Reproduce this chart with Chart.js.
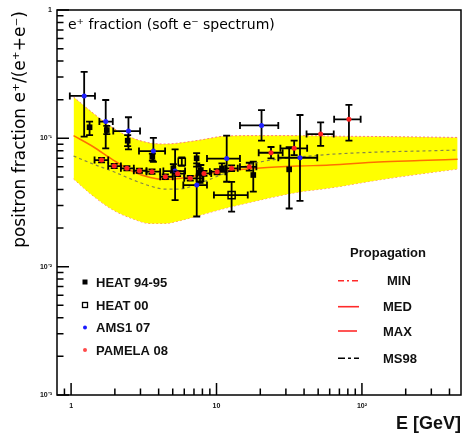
<!DOCTYPE html>
<html><head><meta charset="utf-8">
<script src="https://cdn.jsdelivr.net/npm/chart.js@4.4.1/dist/chart.umd.min.js"></script>
<style>html,body{margin:0;padding:0;background:#fff}#wrap{width:462px;height:434px;position:relative}</style>
</head><body><div id="wrap"><canvas id="c" width="462" height="434"></canvas></div>
<script>
// ---- Axis ticks ----
const xMin = 0.8, xMax = 480;
const xMajor = [1, 10, 100];
const xMajorLabels = ['1', '10', '10²'];
const xMinor = [0.9, 2, 3, 4, 5, 6, 7, 8, 9, 20, 30, 40, 50, 60, 70, 80, 90, 200, 300, 400];
const yMajor = [0.001, 0.01, 0.1, 1];
const yMajorLabels = ['10⁻³', '10⁻²', '10⁻¹', '1'];
const yMinor = [0.002, 0.003, 0.004, 0.005, 0.006, 0.007, 0.008, 0.009,
                0.02, 0.03, 0.04, 0.05, 0.06, 0.07, 0.08, 0.09,
                0.2, 0.3, 0.4, 0.5, 0.6, 0.7, 0.8, 0.9];

// ---- Model curves (energy grid in GeV) ----
const curveE    = [1.04, 1.42, 1.95, 2.68, 3.5, 4.4, 5.5, 7.7, 11.6, 20, 37, 60, 130, 250, 455];
const bandUpper = [0.210, 0.157, 0.120, 0.100, 0.0919, 0.0903, 0.0919, 0.0970, 0.1042, 0.105, 0.105, 0.104, 0.1033, 0.1024, 0.1016];
const bandLower = [0.0482, 0.0355, 0.0276, 0.0235, 0.0217, 0.0217, 0.0227, 0.0252, 0.0286, 0.0331, 0.0382, 0.0410, 0.0474, 0.0527, 0.0577];
const medCurve  = [0.105, 0.0860, 0.0677, 0.0549, 0.0495, 0.0477, 0.0486, 0.0518, 0.0556, 0.0587, 0.0608, 0.0619, 0.0654, 0.0671, 0.0686];
const ms98Curve = [0.0728, 0.0630, 0.0551, 0.0473, 0.0425, 0.0402, 0.0402, 0.0448, 0.0537, 0.0654, 0.0715, 0.0750, 0.0782, 0.0796, 0.0811];

// ---- HEAT 94-95 ----
const heat95E  = [1.34, 1.76, 2.45, 3.62, 5.05, 7.3, 7.8, 10.9, 17.9, 31.6];
const heat95V  = [0.122, 0.116, 0.0958, 0.0719, 0.0584, 0.0699, 0.0566, 0.0584, 0.0518, 0.0573];
const heat95Lo = [0.106, 0.108, 0.087, 0.067, 0.054, 0.0602, 0.052, 0.055, 0.0385, 0.0284];
const heat95Hi = [0.135, 0.125, 0.106, 0.076, 0.063, 0.0768, 0.062, 0.0638, 0.0659, 0.0852];

// ---- HEAT 00 ----
const heat00E   = [5.77, 7.7, 12.7];
const heat00V   = [0.0657, 0.0493, 0.0361];
const heat00Lo  = [0.061, 0.045, 0.0268];
const heat00Hi  = [0.071, 0.054, 0.0458];
const heat00XLo = [null, null, 9.6];
const heat00XHi = [null, null, 16.4];

// ---- AMS-01 07 ----
const amsE   = [1.23, 1.73, 2.48, 3.68, 5.19, 7.31, 11.75, 20.4, 37.5];
const amsV   = [0.214, 0.135, 0.114, 0.0796, 0.0556, 0.0432, 0.0696, 0.126, 0.0706];
const amsLo  = [0.103, 0.0836, 0.082, 0.0657, 0.033, 0.0246, 0.0459, 0.0958, 0.0325];
const amsHi  = [0.330, 0.199, 0.146, 0.101, 0.082, 0.0638, 0.105, 0.166, 0.152];
const amsXLo = [0.98, 1.565, 1.95, 2.93, 4.31, 5.91, 8.6, 14.5, 26.6];
const amsXHi = [1.46, 1.935, 2.98, 4.43, 6.08, 8.6, 14.5, 26.6, 49.3];

// ---- PAMELA 08 ----
const pamE   = [1.62, 1.98, 2.42, 2.95, 3.6, 4.45, 5.4, 6.6, 8.2, 10.1, 12.7, 16.8, 23.7, 34.2, 52.0, 81.4];
const pamV   = [0.0677, 0.0608, 0.0584, 0.0559, 0.0550, 0.0502, 0.0530, 0.0488, 0.0533, 0.0550, 0.0584, 0.0600, 0.0772, 0.0836, 0.108, 0.1406];
const pamLo  = [0.0650, 0.0585, 0.0562, 0.0538, 0.0528, 0.0482, 0.0508, 0.0468, 0.0510, 0.0525, 0.0555, 0.0560, 0.0698, 0.0740, 0.0873, 0.0958];
const pamHi  = [0.0705, 0.0632, 0.0607, 0.0581, 0.0573, 0.0523, 0.0553, 0.0509, 0.0557, 0.0576, 0.0615, 0.0645, 0.0856, 0.0960, 0.133, 0.182];
const pamXLo = [1.45, 1.80, 2.20, 2.70, 3.30, 4.10, 5.00, 6.00, 7.40, 9.00, 11.5, 14.5, 19.5, 27.5, 41.6, 64.4];
const pamXHi = [1.80, 2.20, 2.70, 3.30, 4.10, 5.00, 6.00, 8.00, 9.20, 11.5, 14.0, 18.8, 28.5, 42.0, 64.0, 98.0];

// ---- Texts ----
const yTitle = 'positron fraction e⁺/(e⁺+e⁻)';
const xTitle = 'E [GeV]';
const plotLabel = 'e⁺ fraction (soft e⁻ spectrum)';
const dataLegendLabels = ['HEAT 94-95', 'HEAT 00', 'AMS1 07', 'PAMELA 08'];
const propTitle = 'Propagation';
const propLegendLabels = ['MIN', 'MED', 'MAX', 'MS98'];

const FONT = "'Liberation Sans', Arial, sans-serif";
Chart.defaults.font.family = FONT;

const pts = (E, V) => E.map((e, i) => ({x: e, y: V[i]}));

// pin the plot frame's right edge to the reference position
const areaPlugin = {
  id: 'area',
  afterLayout(chart) {
    const R = 461, a = chart.chartArea, x = chart.scales.x;
    a.right = R; a.width = R - a.left;
    x.right = R; x.width = R - x.left;
    x.configure();
  }
};

const errPlugin = {
  id: 'errbars',
  beforeDatasetDraw(chart, args) {
    const ds = chart.data.datasets[args.index];
    if (!ds.err) return;
    const {ctx, chartArea: a, scales: {x, y}} = chart;
    const e = ds.err, cap = 3.5;
    ctx.save();
    ctx.beginPath(); ctx.rect(a.left, a.top, a.right - a.left, a.bottom - a.top); ctx.clip();
    ctx.strokeStyle = '#000'; ctx.lineWidth = 1.8; ctx.lineCap = 'butt';
    ds.data.forEach((p, i) => {
      const px = x.getPixelForValue(p.x), py = y.getPixelForValue(p.y);
      ctx.beginPath();
      if (e.ylo && e.ylo[i] != null) {
        const y1 = y.getPixelForValue(e.ylo[i]), y2 = y.getPixelForValue(e.yhi[i]);
        ctx.moveTo(px, y1); ctx.lineTo(px, y2);
        ctx.moveTo(px - cap, y1); ctx.lineTo(px + cap, y1);
        ctx.moveTo(px - cap, y2); ctx.lineTo(px + cap, y2);
      }
      if (e.xlo && e.xlo[i] != null) {
        const x1 = x.getPixelForValue(e.xlo[i]), x2 = x.getPixelForValue(e.xhi[i]);
        ctx.moveTo(x1, py); ctx.lineTo(x2, py);
        ctx.moveTo(x1, py - cap); ctx.lineTo(x1, py + cap);
        ctx.moveTo(x2, py - cap); ctx.lineTo(x2, py + cap);
      }
      ctx.stroke();
    });
    ctx.restore();
  }
};

const framePlugin = {
  id: 'frame',
  afterDatasetsDraw(chart) {
    const {ctx, chartArea: a, scales: {x, y}} = chart;
    ctx.save();
    ctx.strokeStyle = '#000'; ctx.lineWidth = 1.5;
    ctx.strokeRect(a.left, a.top, a.right - a.left, a.bottom - a.top);
    ctx.beginPath();
    xMajor.forEach(v => { const px = x.getPixelForValue(v); ctx.moveTo(px, a.bottom); ctx.lineTo(px, a.bottom - 12); });
    xMinor.forEach(v => { const px = x.getPixelForValue(v); ctx.moveTo(px, a.bottom); ctx.lineTo(px, a.bottom - 6.5); });
    yMajor.forEach(v => { const py = y.getPixelForValue(v); ctx.moveTo(a.left, py); ctx.lineTo(a.left + 12, py); });
    yMinor.forEach(v => { const py = y.getPixelForValue(v); ctx.moveTo(a.left, py); ctx.lineTo(a.left + 6.5, py); });
    ctx.stroke();
    ctx.restore();
  },
  afterDraw(chart) {
    const ctx = chart.ctx;
    ctx.save();
    ctx.fillStyle = '#000';
    // y title
    ctx.save();
    ctx.translate(21, 11);
    ctx.rotate(-Math.PI / 2);
    ctx.font = "17px 'DejaVu Sans', sans-serif";
    ctx.textAlign = 'right'; ctx.textBaseline = 'middle';
    ctx.fillText(yTitle, 0, 0);
    ctx.restore();
    // plot label
    ctx.font = "14px 'DejaVu Sans', sans-serif";
    ctx.textAlign = 'left'; ctx.textBaseline = 'alphabetic';
    ctx.fillText(plotLabel, 68, 29);
    // data legend
    const rows = [282, 305, 327.5, 350];
    ctx.font = "bold 13px " + FONT;
    ctx.textBaseline = 'middle';
    rows.forEach((ry, i) => {
      const mx = 85;
      if (i === 0) { ctx.fillStyle = '#000'; ctx.fillRect(mx - 2.5, ry - 2.5, 5, 5); }
      if (i === 1) { ctx.strokeStyle = '#000'; ctx.lineWidth = 1.3; ctx.strokeRect(mx - 2.5, ry - 2.5, 5, 5); }
      if (i === 2) { ctx.fillStyle = '#1a1aff'; ctx.beginPath(); ctx.arc(mx, ry, 2, 0, 2 * Math.PI); ctx.fill(); }
      if (i === 3) { ctx.fillStyle = '#ff4a4a'; ctx.beginPath(); ctx.arc(mx, ry, 2, 0, 2 * Math.PI); ctx.fill(); }
      ctx.fillStyle = '#111';
      ctx.fillText(dataLegendLabels[i], 96, ry + 1);
    });
    // propagation legend
    ctx.textAlign = 'center';
    ctx.fillText(propTitle, 388, 253);
    const prow = [280.7, 306.7, 331, 358.3];
    const ptx = [387, 383, 383, 383];
    const dashes = [[6, 3, 2, 3], [], [], [7, 3, 3, 3]];
    const cols = ['#ff2a2a', '#ff2a2a', '#ff2a2a', '#000'];
    prow.forEach((ry, i) => {
      ctx.strokeStyle = cols[i]; ctx.lineWidth = 1.6; ctx.setLineDash(dashes[i]);
      ctx.beginPath(); ctx.moveTo(338, ry); ctx.lineTo(i === 2 ? 357 : 359, ry); ctx.stroke();
      ctx.setLineDash([]);
      ctx.textAlign = 'left'; ctx.fillStyle = '#111';
      ctx.fillText(propLegendLabels[i], ptx[i], ry + 1);
    });
    ctx.restore();
  }
};

const tickFont = {size: 7, weight: 'bold', family: FONT};

new Chart(document.getElementById('c'), {
  type: 'scatter',
  data: {
    datasets: [
      {type: 'line', label: 'band lower', data: pts(curveE, bandLower), borderColor: '#ff7a7a', borderWidth: 1, borderDash: [2, 2],
       pointRadius: 0, fill: false, cubicInterpolationMode: 'monotone', order: 10},
      {type: 'line', label: 'band upper', data: pts(curveE, bandUpper), borderColor: '#ff7a7a', borderWidth: 1, borderDash: [2, 2],
       pointRadius: 0, fill: '-1', backgroundColor: '#ffff00', cubicInterpolationMode: 'monotone', order: 9},
      {type: 'line', label: 'MS98', data: pts(curveE, ms98Curve), borderColor: '#85854a', borderWidth: 1.2, borderDash: [3, 3],
       pointRadius: 0, fill: false, cubicInterpolationMode: 'monotone', order: 6},
      {type: 'line', label: 'MED', data: pts(curveE, medCurve), borderColor: '#ff7000', borderWidth: 1.5,
       pointRadius: 0, fill: false, cubicInterpolationMode: 'monotone', order: 5},
      {label: 'HEAT 94-95', data: pts(heat95E, heat95V), pointStyle: 'rect', pointRadius: 4, backgroundColor: '#000', borderColor: '#000', borderWidth: 0,
       err: {ylo: heat95Lo, yhi: heat95Hi}, order: 3},
      {label: 'HEAT 00', data: pts(heat00E, heat00V), pointStyle: 'rect', pointRadius: 5, backgroundColor: 'rgba(0,0,0,0)', borderColor: '#000', borderWidth: 1.5,
       err: {ylo: heat00Lo, yhi: heat00Hi, xlo: heat00XLo, xhi: heat00XHi}, order: 2},
      {label: 'AMS1 07', data: pts(amsE, amsV), pointStyle: 'circle', pointRadius: 2.5, backgroundColor: '#2020ff', borderColor: '#2020ff', borderWidth: 0,
       err: {ylo: amsLo, yhi: amsHi, xlo: amsXLo, xhi: amsXHi}, order: 1},
      {label: 'PAMELA 08', data: pts(pamE, pamV), pointStyle: 'circle', pointRadius: 2.5, backgroundColor: '#ff2020', borderColor: '#ff2020', borderWidth: 0,
       err: {ylo: pamLo, yhi: pamHi, xlo: pamXLo, xhi: pamXHi}, order: 0}
    ]
  },
  options: {
    responsive: false, animation: false, devicePixelRatio: 1,
    layout: {padding: {top: 10, right: 1, left: 0, bottom: 0}},
    plugins: {legend: {display: false}, tooltip: {enabled: false}},
    events: [],
    scales: {
      x: {
        type: 'logarithmic', min: xMin, max: xMax, bounds: 'data', position: 'bottom',
        grid: {display: false, drawTicks: false}, border: {display: false},
        ticks: {font: tickFont, color: '#111', padding: 7, maxRotation: 0, autoSkip: false,
                callback: v => { const k = xMajor.indexOf(v); return k >= 0 ? xMajorLabels[k] : ''; }},
        afterBuildTicks: s => { s.ticks = xMajor.map(v => ({value: v})); },
        afterFit: s => { s.height = 39; },
        title: {display: true, text: xTitle, align: 'end', color: '#111', font: {size: 18, weight: 'bold', family: FONT}, padding: {top: 0, bottom: -1}}
      },
      y: {
        type: 'logarithmic', min: 0.001, max: 1, bounds: 'data', position: 'left',
        grid: {display: false, drawTicks: false}, border: {display: false},
        ticks: {font: tickFont, color: '#111', padding: 5, autoSkip: false,
                callback: v => { const k = yMajor.indexOf(v); return k >= 0 ? yMajorLabels[k] : ''; }},
        afterBuildTicks: s => { s.ticks = yMajor.map(v => ({value: v})); },
        afterFit: s => { s.width = 57; }
      }
    }
  },
  plugins: [areaPlugin, errPlugin, framePlugin]
});
</script></body></html>
